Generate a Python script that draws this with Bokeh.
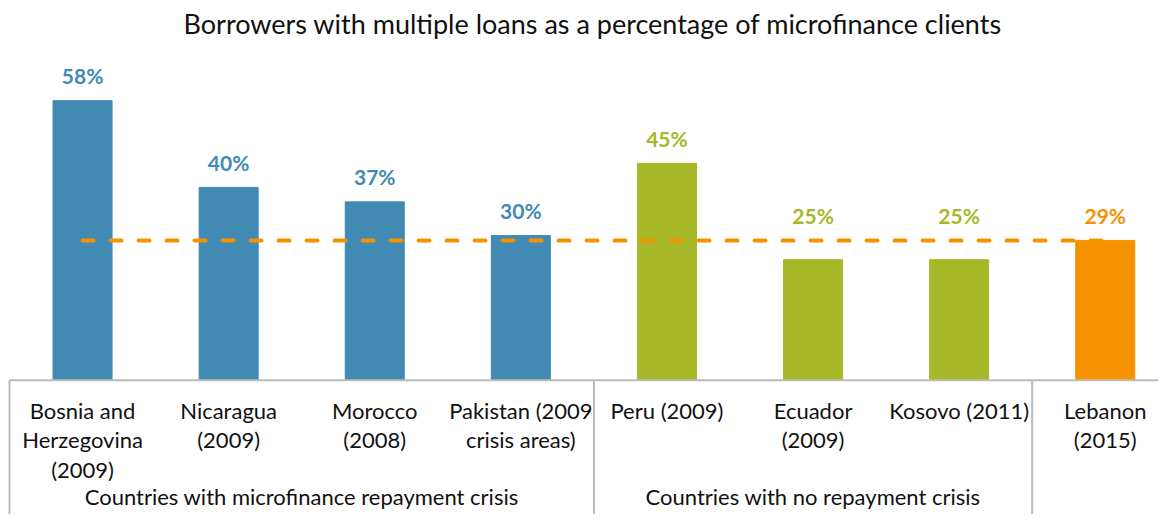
from bokeh.plotting import figure
from bokeh.models import Range1d, ColumnDataSource
from bokeh.core.properties import value
from bokeh.embed import file_html
from bokeh.resources import INLINE

# ---- data ----
countries = ["Bosnia and\nHerzegovina\n(2009)", "Nicaragua\n(2009)", "Morocco\n(2008)",
             "Pakistan (2009\ncrisis areas)", "Peru (2009)", "Ecuador\n(2009)",
             "Kosovo (2011)", "Lebanon\n(2015)"]
shares = [58, 40, 37, 30, 45, 25, 25, 29]
value_labels = ["58%", "40%", "37%", "30%", "45%", "25%", "25%", "29%"]
group_names = ["Countries with microfinance repayment crisis", "Countries with no repayment crisis", ""]
group_sizes = [4, 3, 1]
group_colors = ["#418AB3", "#A6B727", "#F69200"]
reference_value = 29  # Lebanon (2015)

# ---- derived ----
bar_colors = []
for c, n in zip(group_colors, group_sizes):
    bar_colors += [c] * n
xs = [i + 0.5 for i in range(len(countries))]
label_y = [max(v, reference_value) for v in shares]  # labels sit above the dashed line
bounds = [0]
for n in group_sizes:
    bounds.append(bounds[-1] + n)
group_x = [(bounds[i] + bounds[i + 1]) / 2 for i in range(len(group_sizes))]

W, H = 1158, 514
PX_PER_UNIT_X = 146.1
PX_PER_UNIT_Y = 4.81
AXIS_PX = 380
FRAME_TOP = 44
x0 = -9 / PX_PER_UNIT_X
y_bottom = -(H - AXIS_PX) / PX_PER_UNIT_Y
y_top = (AXIS_PX - FRAME_TOP) / PX_PER_UNIT_Y

p = figure(width=W, height=H, output_backend="svg", toolbar_location=None,
           x_range=Range1d(x0, x0 + W / PX_PER_UNIT_X),
           y_range=Range1d(y_bottom, y_top),
           min_border_left=0, min_border_right=0, min_border_top=0, min_border_bottom=0)
p.title.text = "Borrowers with multiple loans as a percentage of microfinance clients"
p.title.align = "left"
p.title.offset = 183
p.title.text_font = "Lato"
p.title.text_font_size = "27px"
p.title.text_font_style = "normal"
p.title.text_color = "#111111"
p.title.standoff = 8
p.xaxis.visible = False
p.yaxis.visible = False
p.xgrid.visible = False
p.ygrid.visible = False
p.outline_line_color = None

src = ColumnDataSource(dict(x=xs, top=shares, ly=label_y, color=bar_colors,
                            label=value_labels, country=countries))
p.vbar(x="x", top="top", bottom=0, width=0.404, color="color", source=src)

# reference line (Lebanon level)
p.line([xs[0], xs[-1]], [reference_value, reference_value], line_color=group_colors[2],
       line_width=4, line_dash="11 17", line_cap="round")

p.text(x="x", y="ly", text="label", source=src, text_color="color",
       text_font=value("Lato"), text_font_size="21px", text_font_style="bold",
       text_align="center", text_baseline="alphabetic", y_offset=-25)

# category frame
gray = "#BBBBBB"
p.segment(x0=[bounds[0]], y0=[0], x1=[bounds[-1]], y1=[0], line_color=gray, line_width=2)
p.segment(x0=bounds, y0=[0] * len(bounds), x1=bounds, y1=[y_bottom] * len(bounds),
          line_color=gray, line_width=2)

p.text(x="x", y=0, text="country", source=src, text_color="#111111",
       text_font=value("Lato"), text_font_size="22px", text_align="center",
       text_baseline="top", y_offset=17, text_line_height=1.085)

p.text(x=group_x, y=[0] * len(group_x), text=group_names, text_color="#111111",
       text_font=value("Lato"), text_font_size="22px", text_align="center",
       text_baseline="middle", y_offset=116)

open("out.html", "w").write(file_html(p, INLINE))
